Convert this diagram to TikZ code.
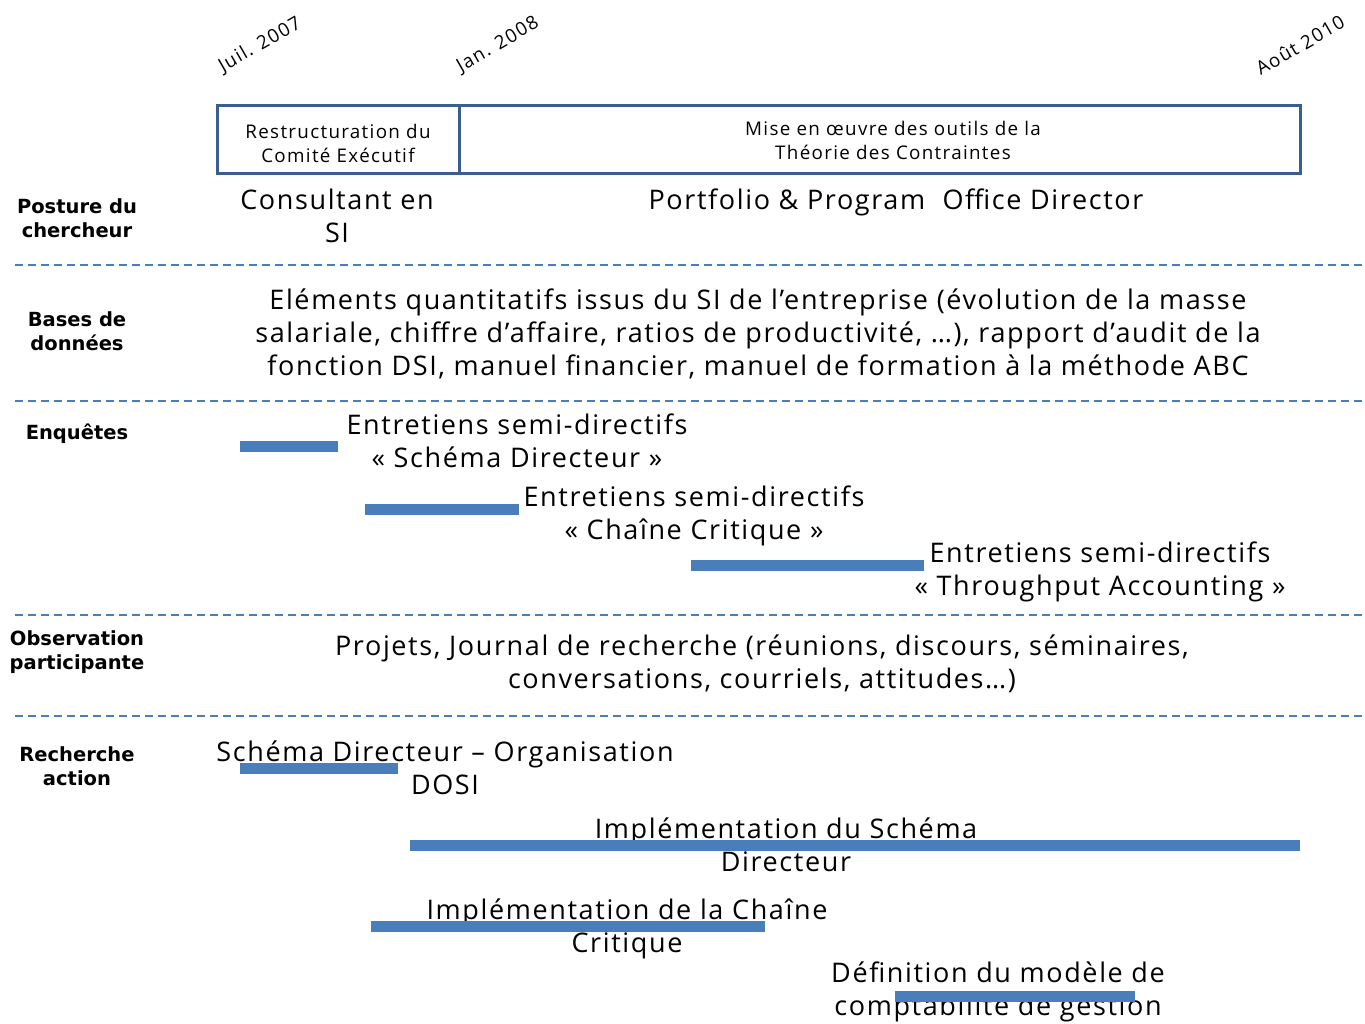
\documentclass[tikz,border=0pt]{standalone}
\usepackage{fontspec}
\newfontfamily\mainf[LetterSpace=6]{Open Sans}
\newfontfamily\smallf[LetterSpace=7]{Open Sans}
\newfontfamily\labf{DejaVu Sans}
\definecolor{boxblue}{RGB}{58,95,143}
\definecolor{barblue}{RGB}{74,126,187}
\begin{document}
\begin{tikzpicture}[x=1pt,y=-1pt,
  big/.style={font=\mainf\fontsize{27}{33}\selectfont, align=center, inner sep=0},
  small/.style={font=\smallf\fontsize{18.8}{24}\selectfont, align=center, inner sep=0},
  datef/.style={font=\smallf\fontsize{18.8}{22}\selectfont, rotate=30, inner sep=0},
  lab/.style={font=\labf\bfseries\fontsize{19.5}{24}\selectfont, align=center, inner sep=0},
  sep/.style={dashed, dash pattern=on 8pt off 5pt, draw=barblue, line width=1.5pt},
  bar/.style={draw=barblue, line width=11pt},
  frame/.style={draw=boxblue, line width=3pt, inner sep=0}]
\useasboundingbox (0,0) rectangle (1365,1023);
% dates
\node[datef] (d1) at (260,45) {Juil. 2007};
\node[datef] (d2) at (498,45) {Jan. 2008};
\node[datef] (d3) at (1300,45) {Août 2010};
% boxes
\node[frame, minimum width=242, minimum height=68] (b1) at (338,139) {};
\node[frame, minimum width=841, minimum height=68] (b2) at (879.5,139) {};
\node[small] (t1) at (338,143) {Restructuration du\\Comité Exécutif};
\node[small] (t2) at (893,140) {Mise en œuvre des outils de la\\Théorie des Contraintes};
% separators
\coordinate (s1a) at (15,265); \coordinate (s1b) at (1365,265);
\coordinate (s2a) at (15,401); \coordinate (s2b) at (1365,401);
\coordinate (s3a) at (15,615); \coordinate (s3b) at (1365,615);
\coordinate (s4a) at (15,716); \coordinate (s4b) at (1365,716);
\draw[sep] (s1a) -- (s1b);
\draw[sep] (s2a) -- (s2b);
\draw[sep] (s3a) -- (s3b);
\draw[sep] (s4a) -- (s4b);
% row labels
\node[lab] (l1) at (77,218) {Posture du\\chercheur};
\node[lab] (l2) at (77,331) {Bases de\\données};
\node[lab] (l3) at (77,434) {Enquêtes};
\node[lab] (l4) at (77,652) {Observation\\participante};
\node[lab] (l5) at (77,766) {Recherche\\action};
% posture
\node[big] (p1) at (337,216) {Consultant en\\SI};
\node[big] (p2) at (896,202) {Portfolio \& Program\ \ Office Director};
% bases
\node[big] (bd) at (758,334) {Eléments quantitatifs issus du SI de l’entreprise (évolution de la masse\\salariale, chiffre d’affaire, ratios de productivité, …), rapport d’audit de la\\fonction DSI, manuel financier, manuel de formation à la méthode ABC};
% enquetes
\node[big] (e1) at (517,441) {Entretiens semi-directifs\\« Schéma Directeur »};
\node[big] (e2) at (694,516) {Entretiens semi-directifs\\« Chaîne Critique »};
\node[big] (e3) at (1100,572) {Entretiens semi-directifs\\« Throughput Accounting »};
\draw[bar] (240,446) -- (338,446);
\draw[bar] (365,509) -- (519,509);
\draw[bar] (691,565) -- (924,565);
% observation
\node[big] (o1) at (762,664) {Projets, Journal de recherche (réunions, discours, séminaires,\\conversations, courriels, attitudes…)};
% recherche action
\node[big] (r1) at (445,768) {Schéma Directeur – Organisation\\DOSI};
\node[big] (r2) at (786,845) {Implémentation du Schéma\\Directeur};
\node[big] (r3) at (627,929) {Implémentation de la Chaîne\\Critique};
\node[big] (r4) at (998,992) {Définition du modèle de\\comptabilité de gestion};
\draw[bar] (240,768) -- (398,768);
\draw[bar] (410,845) -- (1300,845);
\draw[bar] (371,926) -- (765,926);
\draw[bar] (895,996) -- (1135,996);
\end{tikzpicture}
\end{document}
